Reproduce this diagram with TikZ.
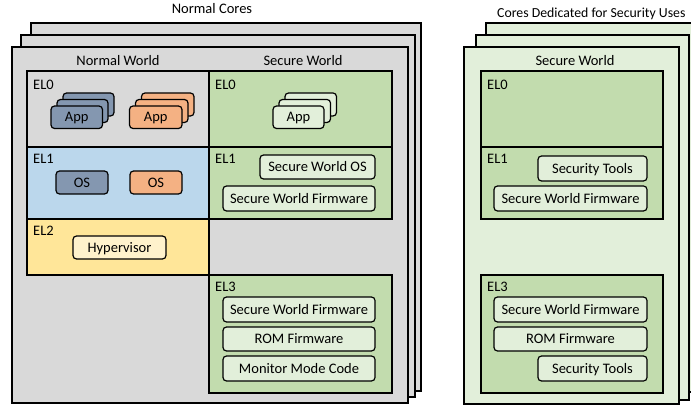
\documentclass[tikz,border=0pt]{standalone}
\usepackage{fontspec}
\setmainfont{Carlito}
\usetikzlibrary{fit}
\definecolor{frameg}{HTML}{D9D9D9}
\definecolor{lgreen}{HTML}{E2EFDA}
\definecolor{mgreen}{HTML}{C2DCAE}
\definecolor{elblue}{HTML}{BBD7EC}
\definecolor{elyellow}{HTML}{FFE699}
\definecolor{appblue}{HTML}{8497B0}
\definecolor{apporange}{HTML}{F4B183}
\definecolor{hyper}{HTML}{FFF2CC}
\begin{document}
\begin{tikzpicture}[x=1pt,y=-1pt,
  frame/.style={draw=black, line width=2pt, inner sep=0pt},
  elbox/.style={draw=black, line width=1.8pt, inner sep=0pt},
  itembox/.style={draw=black, line width=1.2pt, rounded corners=3.5pt, inner sep=0pt},
  itemtext/.style={anchor=base, yshift=-4.7pt, inner sep=0pt, font=\fontsize{14.5}{15}\selectfont},
  ellab/.style={anchor=base west, inner sep=0pt, font=\fontsize{14.5}{15}\selectfont},
  title/.style={anchor=base, inner sep=0pt, font=\fontsize{14.5}{15}\selectfont}]
\useasboundingbox (0,0) rectangle (691,406);
\fill[white] (0,0) rectangle (691,406);

% ---------- Normal cores ----------
\node[title] (tnc) at (212,13.5) {Normal Cores};
\node[frame, fill=frameg, fit={(31,23) (421,391)}] (nback) {};
\node[frame, fill=frameg, fit={(21,35) (415,397)}] (nmid) {};
\node[frame, fill=frameg, fit={(12,47) (408,403)}] (nfront) {};
\node[title] (nw) at (118,66) {Normal World};
\node[title] (sw) at (303,66) {Secure World};

\node[elbox, fill=frameg, fit={(27,71) (209,147)}] (nel0) {};
\node[elbox, fill=elblue, fit={(27,147) (209,219)}] (nel1) {};
\node[elbox, fill=elyellow, fit={(27,219) (209,275)}] (nel2) {};
\node[elbox, fill=mgreen, fit={(209,71) (392,147)}] (sel0) {};
\node[elbox, fill=mgreen, fit={(209,147) (392,219)}] (sel1) {};
\node[elbox, fill=mgreen, fit={(209,275) (392,393)}] (sel3) {};

\node[ellab] (lnel0) at (33,89.5) {EL0};
\node[ellab] (lnel1) at (33,163.5) {EL1};
\node[ellab] (lnel2) at (33,236) {EL2};
\node[ellab] (lsel0) at (215,89.5) {EL0};
\node[ellab] (lsel1) at (215,163.5) {EL1};
\node[ellab] (lsel3) at (215,291.5) {EL3};

% App stacks
\node[itembox, fill=appblue, fit={(63,93) (114,116)}] (ab3) {};
\node[itembox, fill=appblue, fit={(57,99.5) (108,122.5)}] (ab2) {};
\node[itembox, fill=appblue, fit={(51,106) (102.5,128.5)}] (ab1) {};
\node[itemtext] at (ab1.center) {App};
\node[itembox, fill=apporange, fit={(141.5,93) (194,116)}] (ao3) {};
\node[itembox, fill=apporange, fit={(135.5,99.5) (188,122.5)}] (ao2) {};
\node[itembox, fill=apporange, fit={(129.5,106) (182,128.5)}] (ao1) {};
\node[itemtext] at (ao1.center) {App};
\node[itembox, fill=lgreen, fit={(285,93) (336.5,116)}] (as3) {};
\node[itembox, fill=lgreen, fit={(279,99.5) (330.5,122.5)}] (as2) {};
\node[itembox, fill=lgreen, fit={(273,106) (324,128.5)}] (as1) {};
\node[itemtext] at (as1.center) {App};

\node[itembox, fill=appblue, fit={(56,171) (108,194)}] (osb) {};
\node[itemtext] at (osb.center) {OS};
\node[itembox, fill=apporange, fit={(130,171) (182,194)}] (oso) {};
\node[itemtext] at (oso.center) {OS};
\node[itembox, fill=hyper, fit={(73,236) (166,259)}] (hyp) {};
\node[itemtext] at (hyp.center) {Hypervisor};

\node[itembox, fill=lgreen, fit={(260,155) (375,179)}] (swos) {};
\node[itemtext] at (swos.center) {Secure World OS};
\node[itembox, fill=lgreen, fit={(223,186) (375,211)}] (swf1) {};
\node[itemtext] at (swf1.center) {Secure World Firmware};
\node[itembox, fill=lgreen, fit={(223,297) (375,322)}] (swf3) {};
\node[itemtext] at (swf3.center) {Secure World Firmware};
\node[itembox, fill=lgreen, fit={(223,327) (375,351)}] (rom) {};
\node[itemtext] at (rom.center) {ROM Firmware};
\node[itembox, fill=lgreen, fit={(223,356) (375,381)}] (mmc) {};
\node[itemtext] at (mmc.center) {Monitor Mode Code};

% ---------- Security cores ----------
\node[title, anchor=base west, font=\fontsize{13.8}{14}\selectfont] (tsc) at (497,17.3) {Cores Dedicated for Security Uses};
\node[frame, fill=lgreen, fit={(486,23) (700,392)}] (sback) {};
\node[frame, fill=lgreen, fit={(476,35) (689,400)}] (smid) {};
\node[frame, fill=lgreen, fit={(464,47) (679,404)}] (sfront) {};
\node[title] (sw2) at (575,66) {Secure World};

\node[elbox, fill=mgreen, fit={(481,71) (663,147)}] (tel0) {};
\node[elbox, fill=mgreen, fit={(481,147) (663,219)}] (tel1) {};
\node[elbox, fill=mgreen, fit={(481,275) (663,393)}] (tel3) {};
\node[ellab] (ltel0) at (487,89.5) {EL0};
\node[ellab] (ltel1) at (487,163.5) {EL1};
\node[ellab] (ltel3) at (487,291.5) {EL3};

\node[itembox, fill=lgreen, fit={(538,156) (647,181)}] (st1) {};
\node[itemtext] at (st1.center) {Security Tools};
\node[itembox, fill=lgreen, fit={(494,186) (647,211)}] (tswf1) {};
\node[itemtext] at (tswf1.center) {Secure World Firmware};
\node[itembox, fill=lgreen, fit={(494,297) (647,322)}] (tswf3) {};
\node[itemtext] at (tswf3.center) {Secure World Firmware};
\node[itembox, fill=lgreen, fit={(494,327) (647,351)}] (trom) {};
\node[itemtext] at (trom.center) {ROM Firmware};
\node[itembox, fill=lgreen, fit={(538,356) (647,381)}] (st3) {};
\node[itemtext] at (st3.center) {Security Tools};
\end{tikzpicture}
\end{document}
